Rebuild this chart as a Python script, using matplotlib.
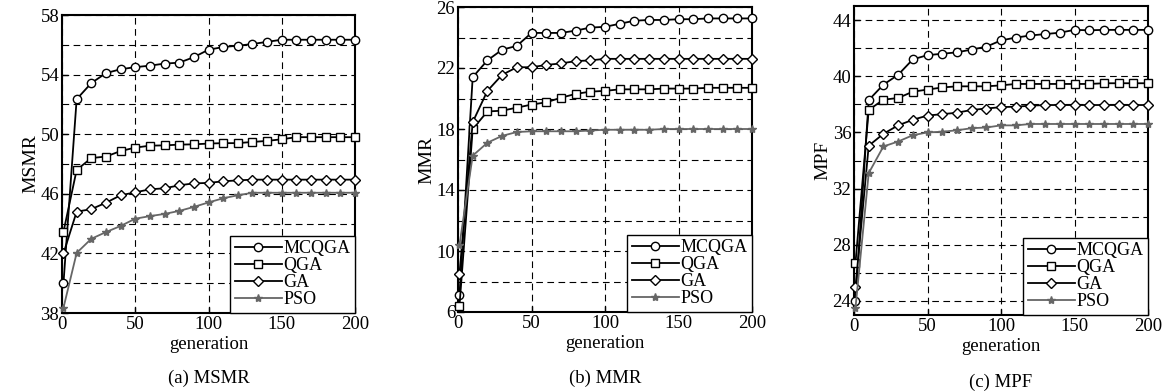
import matplotlib.pyplot as plt
import numpy as np

plt.rcParams['font.family'] = ['Liberation Serif', 'DejaVu Serif']

gens = [1, 10, 20, 30, 40, 50, 60, 70, 80, 90, 100,
        110, 120, 130, 140, 150, 160, 170, 180, 190, 200]
labels = ['MCQGA', 'QGA', 'GA', 'PSO']

# (a) MSMR
msmr_mcqga = [40.0, 52.35, 53.43, 54.1, 54.36, 54.5, 54.6, 54.74, 54.8, 55.17, 55.67,
              55.85, 55.94, 56.05, 56.2, 56.34, 56.34, 56.34, 56.34, 56.34, 56.34]
msmr_qga = [43.45, 47.6, 48.4, 48.5, 48.87, 49.1, 49.23, 49.25, 49.3, 49.32, 49.37,
            49.4, 49.4, 49.48, 49.55, 49.66, 49.8, 49.8, 49.8, 49.8, 49.8]
msmr_ga = [42.0, 44.8, 44.97, 45.4, 45.9, 46.1, 46.3, 46.37, 46.57, 46.7, 46.73,
           46.84, 46.9, 46.95, 46.95, 46.95, 46.95, 46.95, 46.95, 46.95, 46.95]
msmr_pso = [38.35, 42.03, 42.98, 43.43, 43.84, 44.33, 44.5, 44.65, 44.85, 45.12, 45.42,
            45.7, 45.9, 46.07, 46.07, 46.07, 46.07, 46.07, 46.07, 46.07, 46.07]

# (b) MMR
mmr_mcqga = [7.1, 21.4, 22.5, 23.2, 23.45, 24.3, 24.3, 24.3, 24.45, 24.65, 24.7,
             24.9, 25.1, 25.15, 25.15, 25.2, 25.2, 25.25, 25.25, 25.25, 25.25]
mmr_qga = [6.4, 18.0, 19.15, 19.2, 19.4, 19.6, 19.75, 20.05, 20.3, 20.45, 20.5,
           20.6, 20.6, 20.6, 20.65, 20.65, 20.65, 20.7, 20.7, 20.7, 20.7]
mmr_ga = [8.5, 18.45, 20.5, 21.55, 22.05, 22.05, 22.2, 22.3, 22.45, 22.5, 22.6,
          22.6, 22.6, 22.6, 22.6, 22.6, 22.6, 22.6, 22.6, 22.6, 22.6]
mmr_pso = [10.4, 16.25, 17.1, 17.55, 17.8, 17.85, 17.85, 17.85, 17.85, 17.9, 17.95,
           17.95, 17.95, 17.95, 18.0, 18.0, 18.0, 18.0, 18.0, 18.0, 18.0]

# (c) MPF
mpf_mcqga = [24.0, 38.3, 39.4, 40.1, 41.2, 41.5, 41.6, 41.7, 41.9, 42.1, 42.55,
             42.75, 42.9, 43.0, 43.1, 43.3, 43.27, 43.3, 43.3, 43.3, 43.3]
mpf_qga = [26.7, 37.6, 38.33, 38.45, 38.9, 39.05, 39.2, 39.28, 39.28, 39.28, 39.35,
           39.45, 39.45, 39.45, 39.45, 39.45, 39.45, 39.5, 39.5, 39.5, 39.5]
mpf_ga = [25.0, 35.05, 35.9, 36.5, 36.9, 37.2, 37.3, 37.4, 37.6, 37.7, 37.8,
          37.83, 37.9, 37.95, 37.95, 37.95, 37.95, 37.95, 37.95, 37.95, 37.95]
mpf_pso = [23.5, 33.1, 35.0, 35.35, 35.8, 36.0, 36.05, 36.15, 36.3, 36.35, 36.5,
           36.5, 36.6, 36.6, 36.6, 36.6, 36.6, 36.6, 36.6, 36.6, 36.6]

panels = [
    ('MSMR', '(a) MSMR', [msmr_mcqga, msmr_qga, msmr_ga, msmr_pso], (38, 58), np.arange(38, 59, 4)),
    ('MMR', '(b) MMR', [mmr_mcqga, mmr_qga, mmr_ga, mmr_pso], (6, 26), np.arange(6, 27, 4)),
    ('MPF', '(c) MPF', [mpf_mcqga, mpf_qga, mpf_ga, mpf_pso], (23, 45), np.arange(24, 45, 4)),
]
# axes boxes in figure pixels: left, right, top, bottom
W, H = 1167, 392
boxes = [(62, 355, 15, 313), (458, 752, 7, 312), (854, 1148, 6, 315)]

styles = [
    dict(color='black', marker='o', ms=6, mfc='white', mec='black', mew=1.0, lw=1.3),
    dict(color='black', marker='s', ms=6, mfc='white', mec='black', mew=1.0, lw=1.3),
    dict(color='black', marker='D', ms=5, mfc='white', mec='black', mew=1.0, lw=1.3),
    dict(color='#666666', marker='*', ms=6, mfc='#666666', mec='#666666', lw=1.3),
]

fig = plt.figure(figsize=(W / 100, H / 100), dpi=100)
for (ylab, cap, series, ylim, yt), (l, r, t, b) in zip(panels, boxes):
    ax = fig.add_axes([l / W, 1 - b / H, (r - l) / W, (b - t) / H])
    for vals, lab, st in zip(series, labels, styles):
        ax.plot(gens, vals, label=lab, clip_on=False, zorder=3, **st)
    ax.set_xticks([0, 50, 100, 150, 200])
    ax.set_yticks(yt)
    ax.set_yticks(np.arange(yt[0], ylim[1] + 0.1, 2), minor=True)
    ax.set_xlim(0, 200)
    ax.set_ylim(*ylim)
    ax.grid(True, which='both', color='black', linestyle=(0, (6, 4)), lw=0.8)
    ax.tick_params(which='both', direction='in', labelsize=13.5, length=4, width=1, pad=2)
    ax.tick_params(which='minor', length=0)
    for sp in ax.spines.values():
        sp.set_linewidth(1.5)
    ax.set_ylabel(ylab, fontsize=14, labelpad=1)
    ax.set_xlabel('generation', fontsize=13.5, labelpad=2)
    leg = ax.legend(loc='lower right', bbox_to_anchor=(1.0, 0.0), borderaxespad=0,
                    fontsize=13, fancybox=False, framealpha=1, edgecolor='black',
                    handlelength=2.6, handletextpad=0.1, labelspacing=0.0,
                    borderpad=0.25)
    leg.get_frame().set_linewidth(1.0)
    ax.text(0.5, -0.19, cap, transform=ax.transAxes, ha='center', va='top', fontsize=13.5)

fig.savefig('out.png', dpi=100)
